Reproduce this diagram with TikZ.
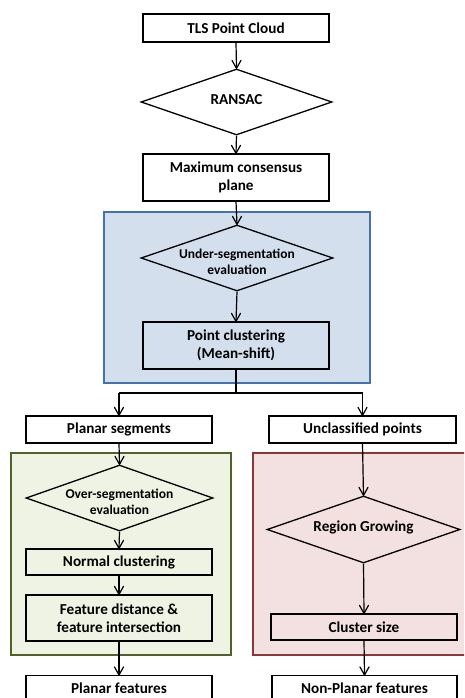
\documentclass[tikz,border=0pt]{standalone}
\usepackage{fontspec}
\setmainfont{Carlito}
\usetikzlibrary{shapes.geometric}
\definecolor{bluefill}{HTML}{D3DFEC}
\definecolor{blueline}{HTML}{4372AE}
\definecolor{greenfill}{HTML}{EEF3E3}
\definecolor{greenline}{HTML}{4F6228}
\definecolor{pinkfill}{HTML}{F3E0E0}
\definecolor{pinkline}{HTML}{8C3636}
\tikzset{
  boxnode/.style={draw, line width=1.3pt, inner sep=0pt, align=center,
    font=\bfseries\fontsize{15.2}{18}\selectfont, minimum width=186pt},
  diam/.style={draw, diamond, line width=1.3pt, inner sep=0pt},
  difftext/.style={align=center, font=\bfseries\fontsize{15.2}{18}\selectfont},
  smalltext/.style={align=center, font=\bfseries\fontsize{13.5}{15.5}\selectfont},
  conn/.style={line width=1.2pt},
  barbtip/.style={line width=1.2pt, line cap=round, line join=round},
  plain/.style={line width=1.2pt},
  container/.style={line width=1.8pt}
}
\newcommand\tipat[1]{\draw[barbtip] ([shift={(-4.5,-8)}]#1) -- (#1) -- ([shift={(4.5,-8)}]#1);}
\begin{document}
\begin{tikzpicture}[x=1pt,y=-1pt]
\useasboundingbox (0,0) rectangle (464,698);
\clip (0,0) rectangle (464,698);
% containers
\draw[container, draw=blueline, fill=bluefill] (104,212) rectangle (370,383);
\draw[container, draw=greenline, fill=greenfill] (11,453) rectangle (231,655);
\draw[container, draw=pinkline, fill=pinkfill] (253,453) rectangle (475,655);
% nodes
\node[boxnode, minimum height=28pt] (tls) at (236,28) {TLS Point Cloud};
\node[diam, minimum width=191pt, minimum height=66pt,
  label={[difftext, yshift=2pt]center:RANSAC}] (ransac) at (236.5,102) {};
\node[boxnode, minimum height=47pt] (maxc) at (236,177.5) {Maximum consensus\\plane};
\node[diam, minimum width=192pt, minimum height=66pt,
  label={[smalltext, yshift=-4pt]center:Under-segmentation\\evaluation}] (under) at (237,258) {};
\node[boxnode, minimum height=47pt] (pclust) at (236,345.5) {Point clustering\\(Mean-shift)};
\coordinate (junc) at (236,393);
\coordinate (jl) at (119,393);
\coordinate (jr) at (362.5,393);
\node[boxnode, minimum height=27pt] (pseg) at (119,429.5) {Planar segments};
\node[boxnode, minimum height=27pt, minimum width=187pt] (uncl) at (362.5,429.5) {Unclassified points};
\node[diam, minimum width=187pt, minimum height=66pt,
  label={[smalltext, yshift=-4pt]center:Over-segmentation\\evaluation}] (over) at (119.5,498) {};
\node[boxnode, minimum height=26pt] (normal) at (119,562) {Normal clustering};
\node[boxnode, minimum height=46pt] (fdist) at (119,618) {Feature distance \&\\feature intersection};
\node[diam, minimum width=193pt, minimum height=67pt,
  label={[difftext, yshift=2pt]center:Region Growing}] (region) at (363.5,529.5) {};
\node[boxnode, minimum height=26pt, minimum width=186pt] (csize) at (364,627) {Cluster size};
\node[boxnode, minimum height=25pt, anchor=north] (pfeat) at (119,675) {Planar features};
\node[boxnode, minimum height=25pt, minimum width=185pt, anchor=north] (npfeat) at (364.5,675) {Non-Planar features};
% connectors
\draw[conn] (tls.south) -- (ransac.north); \tipat{ransac.north}
\draw[conn] (ransac.south) -- (maxc.north); \tipat{maxc.north}
\draw[conn] (maxc.south) -- (under.north); \tipat{under.north}
\draw[conn] (under.south) -- (pclust.north); \tipat{pclust.north}
\draw[plain] (pclust.south) -- (junc);
\draw[plain] (jl) -- (jr);
\draw[conn] (jl) -- (pseg.north); \tipat{pseg.north}
\draw[conn] (jr) -- (uncl.north); \tipat{uncl.north}
\draw[conn] (pseg.south) -- (over.north); \tipat{over.north}
\draw[conn] (over.south) -- (normal.north); \tipat{normal.north}
\draw[conn] (normal.south) -- (fdist.north); \tipat{fdist.north}
\draw[conn] (fdist.south) -- (pfeat.north); \tipat{pfeat.north}
\draw[conn] (uncl.south) -- (region.north); \tipat{region.north}
\draw[conn] (region.south) -- (csize.north); \tipat{csize.north}
\draw[conn] (csize.south) -- (npfeat.north); \tipat{npfeat.north}
\end{tikzpicture}
\end{document}
